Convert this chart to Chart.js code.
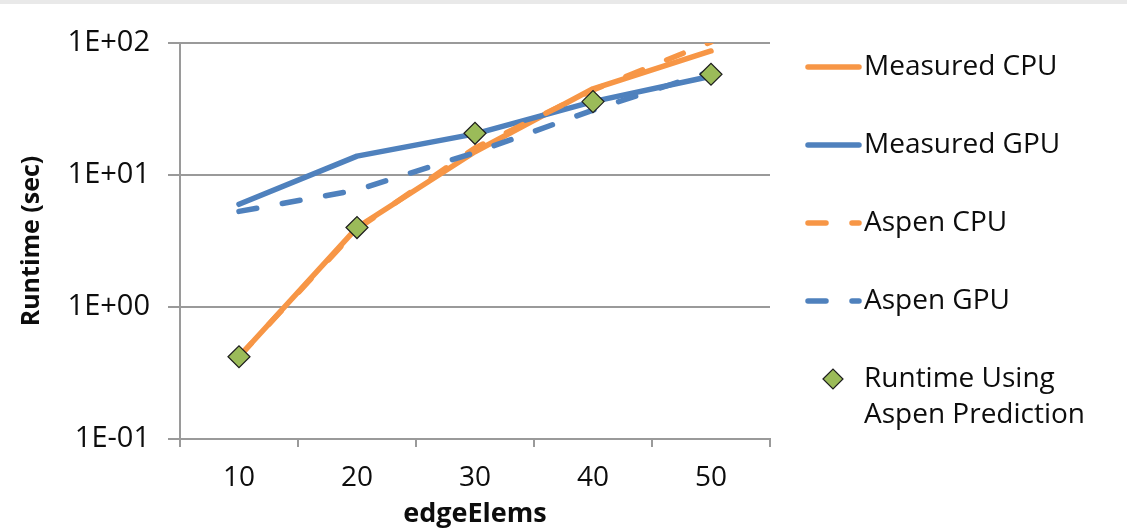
<!DOCTYPE html>
<html>
<head>
<meta charset="utf-8">
<title>Runtime vs edgeElems</title>
<script src="https://cdn.jsdelivr.net/npm/chart.js@4.4.1/dist/chart.umd.min.js"></script>
<style>
  html, body { margin: 0; padding: 0; background: #fff; }
  #wrap { position: relative; width: 1127px; height: 531px; }
  #wrap .topband { position: absolute; left: 0; top: 0; width: 100%; height: 4px; background: #e9e9e9; }
</style>
</head>
<body>
<div id="wrap">
  <canvas id="runtimeChart"></canvas>
  <div class="topband"></div>
</div>
<script>
// ── Data ────────────────────────────────────────────────
const edgeElems = ['10', '20', '30', '40', '50'];
const measuredCpu = [0.42, 4.0, 15, 45, 87];
const measuredGpu = [6.0, 13.9, 20.5, 36, 56];
const aspenCpu = [0.42, 3.9, 16, 44, 102];
const aspenGpu = [5.3, 7.7, 14.8, 31, 61];
const aspenPrediction = [0.42, 4.0, 20.7, 36, 58];
const yTicks = [0.1, 1, 10, 100];
const yTickLabels = ['1E-01', '1E+00', '1E+01', '1E+02'];

// ── Style ───────────────────────────────────────────────
const FONT = "'Open Sans', 'Noto Sans', sans-serif";
const TEXT = '#0d0d0d';
const GRID = '#9a9a9a';
const ORANGE = '#F79646';
const BLUE = '#4F81BD';
const GREEN = '#9BBB59';
const DASH = [18, 26];

Chart.defaults.font.family = FONT;
Chart.defaults.color = TEXT;

// legend drawn on the right, Excel style
const LEGEND_ROWS = [
  { ds: 0, y: 67, text: ['Measured CPU'] },
  { ds: 1, y: 145, text: ['Measured GPU'] },
  { ds: 2, y: 223, text: ['Aspen CPU'] },
  { ds: 3, y: 301, text: ['Aspen GPU'] },
  { ds: 4, y: 379, text: ['Runtime Using', 'Aspen Prediction'] },
];

const sideLegend = {
  id: 'sideLegend',
  afterDraw(chart) {
    const ctx = chart.ctx;
    const x0 = chart.chartArea.right + 38;
    ctx.save();
    ctx.font = '28px ' + FONT;
    ctx.textBaseline = 'middle';
    LEGEND_ROWS.forEach(row => {
      const ds = chart.data.datasets[row.ds];
      if (ds.showLine === false) {
        const cx = x0 + 25, r = 10;
        ctx.beginPath();
        ctx.moveTo(cx - r, row.y);
        ctx.lineTo(cx, row.y - r);
        ctx.lineTo(cx + r, row.y);
        ctx.lineTo(cx, row.y + r);
        ctx.closePath();
        ctx.fillStyle = ds.pointBackgroundColor;
        ctx.fill();
        ctx.lineWidth = 1.2;
        ctx.strokeStyle = ds.pointBorderColor;
        ctx.stroke();
      } else {
        ctx.beginPath();
        ctx.setLineDash(ds.borderDash || []);
        ctx.lineCap = 'round';
        ctx.lineWidth = ds.borderWidth;
        ctx.strokeStyle = ds.borderColor;
        ctx.moveTo(x0, row.y);
        ctx.lineTo(x0 + 51, row.y);
        ctx.stroke();
        ctx.setLineDash([]);
      }
      ctx.fillStyle = TEXT;
      row.text.forEach((t, i) => ctx.fillText(t, x0 + 56, row.y + i * 36));
    });
    ctx.restore();
  }
};

// ── Chart ───────────────────────────────────────────────
new Chart(document.getElementById('runtimeChart'), {
  type: 'line',
  data: {
    labels: edgeElems,
    datasets: [
      { label: 'Measured CPU', data: measuredCpu, borderColor: ORANGE, borderWidth: 5.5, order: 4 },
      { label: 'Measured GPU', data: measuredGpu, borderColor: BLUE, borderWidth: 5.5, order: 3 },
      { label: 'Aspen CPU', data: aspenCpu, borderColor: ORANGE, borderWidth: 5.5, borderDash: DASH, order: 2 },
      { label: 'Aspen GPU', data: aspenGpu, borderColor: BLUE, borderWidth: 5.5, borderDash: DASH, order: 1 },
      {
        label: 'Runtime Using Aspen Prediction', data: aspenPrediction, showLine: false, order: 0,
        pointStyle: 'rectRot', pointRadius: 11, pointBackgroundColor: GREEN,
        pointBorderColor: '#1e1e1e', pointBorderWidth: 1.2,
      },
    ].map(ds => Object.assign({ tension: 0, pointRadius: 0, borderCapStyle: 'round', borderJoinStyle: 'round', fill: false }, ds)),
  },
  options: {
    responsive: true,
    maintainAspectRatio: false,
    animation: false,
    layout: { padding: { left: 17, right: 357, top: 43, bottom: 0 } },
    plugins: {
      legend: { display: false },
      tooltip: { enabled: false },
    },
    scales: {
      x: {
        type: 'category',
        offset: true,
        afterFit: (scale) => { scale.height = 92; },
        grid: { offset: true, drawOnChartArea: false, color: GRID, lineWidth: 2, tickLength: 8 },
        border: { color: GRID, width: 2 },
        ticks: { color: TEXT, font: { size: 28 }, padding: 14 },
        title: { display: true, text: 'edgeElems', color: TEXT, font: { size: 27, weight: 'bold' }, padding: { top: 0, bottom: 0 } },
      },
      y: {
        type: 'logarithmic',
        min: 0.1,
        max: 100,
        afterFit: (scale) => { scale.width = 163; },
        afterBuildTicks: (axis) => { axis.ticks = yTicks.map(v => ({ value: v })); },
        grid: { color: GRID, lineWidth: 2, tickLength: 12 },
        border: { color: GRID, width: 2 },
        ticks: {
          color: TEXT,
          font: { size: 29 },
          padding: 18,
          callback: (v) => yTickLabels[yTicks.indexOf(v)] ?? '',
        },
        title: { display: true, text: 'Runtime (sec)', color: TEXT, font: { size: 25, weight: 'bold' }, padding: { top: 0, bottom: 0 } },
      },
    },
  },
  plugins: [sideLegend],
});
</script>
</body>
</html>
